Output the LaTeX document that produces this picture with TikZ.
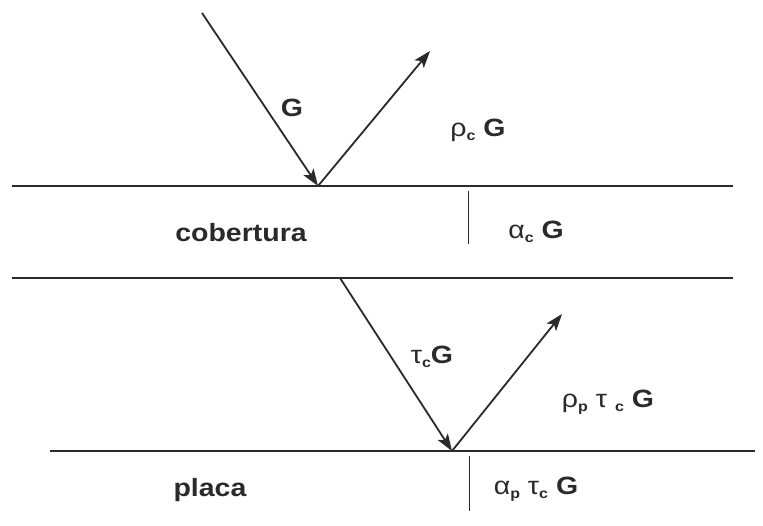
\documentclass[tikz,border=0pt]{standalone}
\usepackage{fontspec}
\setmainfont[FakeStretch=1.14]{Liberation Sans}
\usetikzlibrary{arrows.meta}
\definecolor{ink}{HTML}{2A2A2A}
\newcommand{\lsub}[1]{\raisebox{-4pt}{\fontsize{14}{14}\selectfont #1}}
\begin{document}
\begin{tikzpicture}[x=1pt,y=-1pt,
  surf/.style={draw=ink,line width=1.8pt},
  tick/.style={draw=ink,line width=1pt},
  ray/.style={draw=ink,line width=1.8pt,-{Stealth[length=17pt,width=12pt,inset=4pt]}},
  lab/.style={text=ink,font=\fontsize{25}{29}\selectfont\bfseries,inner sep=0pt,anchor=center}]
\useasboundingbox (0,0) rectangle (763,525);
\fill[white] (0,0) rectangle (763,525);
% surfaces
\coordinate (s1a) at (12,186); \coordinate (s1b) at (733,186);
\coordinate (s2a) at (12,278); \coordinate (s2b) at (733,278);
\coordinate (s3a) at (50,451); \coordinate (s3b) at (755,451);
\draw[surf] (s1a) -- (s1b);
\draw[surf] (s2a) -- (s2b);
\draw[surf] (s3a) -- (s3b);
% rays top
\coordinate (g0) at (202,13);
\coordinate (p1) at (318,186);
\coordinate (r1) at (430,51);
\draw[ray] (g0) -- (p1);
\draw[ray] (p1) -- (r1);
% rays bottom
\coordinate (t0) at (340,278);
\coordinate (p2) at (452,451);
\coordinate (r2) at (562,314);
\draw[ray] (t0) -- (p2);
\draw[ray] (p2) -- (r2);
% ticks
\coordinate (k1a) at (468,191); \coordinate (k1b) at (468,244);
\coordinate (k2a) at (469,456); \coordinate (k2b) at (469,511);
\draw[tick] (k1a) -- (k1b);
\draw[tick] (k2a) -- (k2b);
% labels
\node[lab] (lG) at (292,108) {G};
\node[lab] (lrc) at (478,130) {{\mdseries ρ}\lsub{c} G};
\node[lab] (lcob) at (241,233) {cobertura};
\node[lab] (lac) at (536,232) {{\mdseries α}\lsub{c} G};
\node[lab] (ltc) at (432,357) {{\mdseries τ}\lsub{c}G};
\node[lab] (lrp) at (608,402) {{\mdseries ρ}\lsub{p} {\mdseries τ} \lsub{c} G};
\node[lab] (lpl) at (210,490) {placa};
\node[lab] (lap) at (536,489) {{\mdseries α}\lsub{p} {\mdseries τ}\lsub{c} G};
\end{tikzpicture}
\end{document}
